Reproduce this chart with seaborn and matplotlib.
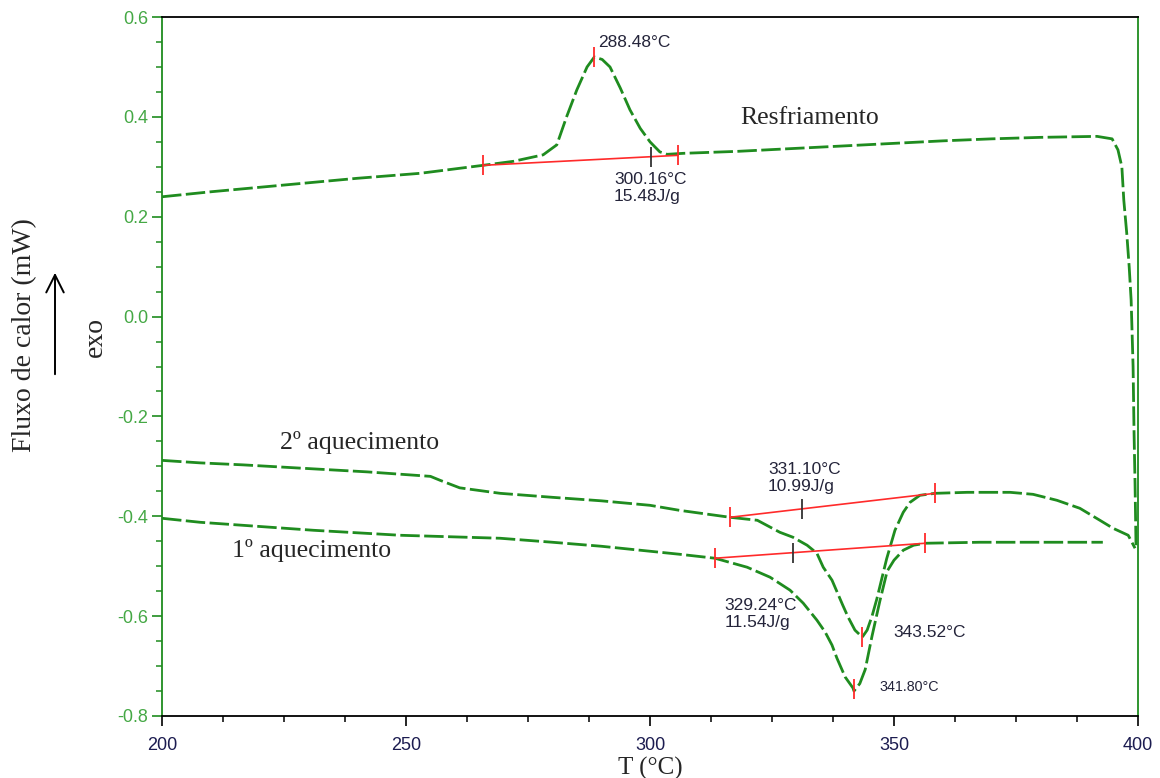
import numpy as np
import matplotlib
matplotlib.use("Agg")
import matplotlib.pyplot as plt
from matplotlib.ticker import MultipleLocator, FormatStrFormatter
import seaborn as sns

# curvas DSC (T em °C, fluxo em mW)
resf_T = [200, 210, 220, 230, 240, 252.9, 265.8, 272, 278.1, 280.9, 282.9, 285, 287.1, 288.6, 290.2,
          291.8, 293.9, 295.9, 298, 300, 302, 303.5, 306.8, 318, 330, 340, 350, 360, 370, 380,
          391.6, 394.7, 395.9, 396.7, 397.1, 397.7, 398.2, 398.6, 398.8, 399.0, 399.2, 399.4, 399.6]
resf_Y = [0.240, 0.250, 0.259, 0.268, 0.277, 0.287, 0.303, 0.311, 0.324, 0.344, 0.400, 0.454, 0.500, 0.520, 0.515,
          0.500, 0.458, 0.414, 0.377, 0.350, 0.330, 0.325, 0.327, 0.331, 0.337, 0.342, 0.347, 0.352, 0.356, 0.359,
          0.361, 0.356, 0.334, 0.300, 0.233, 0.167, 0.100, 0.033, -0.033, -0.100, -0.233, -0.333, -0.460]

aq2_T = [200, 207.8, 216.6, 231, 242, 255, 257, 261, 269.3, 280, 290, 300, 306, 316.4, 322,
         326.6, 329.3, 332.2, 334.2, 335.5, 337.3, 339.5, 340.6, 342, 343.5, 344.5, 345.5, 346.5, 347.5, 348.5,
         350.2, 351.9, 353.3, 355.3, 358.4, 365, 373.8, 378.5, 383.4, 388.1, 392.2, 394.9, 398, 399.4]
aq2_Y = [-0.288, -0.293, -0.297, -0.305, -0.311, -0.320, -0.328, -0.343, -0.354, -0.362, -0.369, -0.378, -0.388, -0.402, -0.408,
         -0.432, -0.442, -0.458, -0.474, -0.502, -0.528, -0.578, -0.602, -0.628, -0.642, -0.628, -0.600, -0.565, -0.525, -0.485,
         -0.428, -0.392, -0.372, -0.358, -0.354, -0.352, -0.352, -0.356, -0.368, -0.384, -0.408, -0.424, -0.438, -0.464]

aq1_T = [200, 207.8, 231, 248.8, 269.3, 280, 290, 300, 306, 313.3, 319.9, 324.6, 328.7, 331.4, 334.2,
         335.9, 337.3, 338.3, 340, 341.6, 341.8, 343, 344.1, 345.5, 347.1, 348.6, 350, 351.9, 354, 356.4,
         367.6, 380, 392.8]
aq1_Y = [-0.404, -0.412, -0.428, -0.438, -0.444, -0.452, -0.460, -0.470, -0.476, -0.484, -0.502, -0.522, -0.548, -0.574, -0.608,
         -0.632, -0.658, -0.684, -0.722, -0.744, -0.750, -0.735, -0.707, -0.640, -0.570, -0.510, -0.488, -0.468, -0.458, -0.454,
         -0.452, -0.452, -0.452]

# linhas de base / onset / pico (resfriamento, 2º aq., 1º aq.)
base_T0 = [265.8, 316.4, 313.3]
base_Y0 = [0.303, -0.402, -0.484]
base_T1 = [305.7, 358.4, 356.4]
base_Y1 = [0.323, -0.354, -0.454]
onset_T = [300.16, 331.10, 329.24]
onset_Y = [0.320, -0.385, -0.473]
entalpia = ["15.48J/g", "10.99J/g", "11.54J/g"]
pico_T = [288.48, 343.52, 341.80]
pico_Y = [0.520, -0.642, -0.745]

curvas = ["Resfriamento", "2º aquecimento", "1º aquecimento"]

sns.set_theme(style="ticks")
plt.rcParams['axes.unicode_minus'] = False
plt.rcParams['font.family'] = ['Liberation Sans', 'DejaVu Sans']

verde = '#1f8c1f'
verde_txt = '#45a845'
txt_cor = '#24243a'
serif = ['Liberation Serif', 'DejaVu Serif']

fig = plt.figure(figsize=(11.6, 7.78), dpi=100)
ax = fig.add_axes([0.1397, 0.0797, 0.8413, 0.8984])

for T, Y in [(resf_T, resf_Y), (aq2_T, aq2_Y), (aq1_T, aq1_Y)]:
    sns.lineplot(x=T, y=Y, ax=ax, color=verde, lw=2.0, sort=False, estimator=None,
                 linestyle=(0, (7, 1.6)))

for i in range(3):
    ax.plot([base_T0[i], base_T1[i]], [base_Y0[i], base_Y1[i]], color='#ff2a2a', lw=1.2)
ax.plot(base_T0, base_Y0, ls='', marker='|', ms=15, mew=1.3, color='#ff2a2a')
ax.plot(base_T1, base_Y1, ls='', marker='|', ms=15, mew=1.3, color='#ff2a2a')
ax.plot(pico_T, pico_Y, ls='', marker='|', ms=15, mew=1.3, color='#ff2a2a')
ax.plot(onset_T, onset_Y, ls='', marker='|', ms=15, mew=1.3, color='#333333')

# textos das medidas
ax.text(289.3, 0.55, f"{pico_T[0]:.2f}°C", fontsize=12.5, color=txt_cor, va='center')
ax.text(292.6, 0.257, f"{onset_T[0]:.2f}°C\n{entalpia[0]}", fontsize=12.5, color=txt_cor,
        va='center', linespacing=1.15)
ax.text(324.2, -0.324, f"{onset_T[1]:.2f}°C\n{entalpia[1]}", fontsize=12.5, color=txt_cor,
        va='center', linespacing=1.15)
ax.text(315.2, -0.595, f"{onset_T[2]:.2f}°C\n{entalpia[2]}", fontsize=12.5, color=txt_cor,
        va='center', linespacing=1.15)
ax.text(349.8, -0.632, f"{pico_T[1]:.2f}°C", fontsize=12.5, color=txt_cor, va='center')
ax.text(347.1, -0.741, f"{pico_T[2]:.2f}°C", fontsize=10.3, color=txt_cor, va='center')

# nomes das curvas
ax.text(318.6, 0.398, curvas[0], fontsize=18.5, family=serif, va='center')
ax.text(224.2, -0.252, curvas[1], fontsize=18.5, family=serif, va='center')
ax.text(214.3, -0.468, curvas[2], fontsize=18.5, family=serif, va='center')

ax.set_xlim(200, 400)
ax.set_ylim(-0.8, 0.6)
ax.set_xticks([200, 250, 300, 350, 400])
ax.set_yticks([-0.8, -0.6, -0.4, -0.2, 0.0, 0.2, 0.4, 0.6])
ax.xaxis.set_minor_locator(MultipleLocator(12.5))
ax.yaxis.set_minor_locator(MultipleLocator(0.05))
ax.yaxis.set_major_formatter(FormatStrFormatter('%.1f'))

ax.tick_params(axis='y', which='major', length=7, width=1.2, color=verde, labelcolor=verde_txt,
               labelsize=13, pad=3)
ax.tick_params(axis='y', which='minor', length=4.5, width=1.1, color=verde)
ax.tick_params(axis='x', which='major', length=7, width=1.2, color='black', labelcolor='#1c1c50',
               labelsize=13, pad=8)
ax.tick_params(axis='x', which='minor', length=4.5, width=1.1, color='black')
for lab in ax.get_xticklabels():
    lab.set_family(['Liberation Sans Narrow', 'Liberation Sans'])

for s in ['left', 'right']:
    ax.spines[s].set_color(verde)
    ax.spines[s].set_linewidth(1.3)
for s in ['top', 'bottom']:
    ax.spines[s].set_color('black')
    ax.spines[s].set_linewidth(1.3)
ax.spines['right'].set_visible(True)
ax.spines['top'].set_visible(True)

ax.set_xlabel("T (°C)", fontsize=18, family=serif, labelpad=2)
ax.set_ylabel("")

fig.text(25 / 1160, 1 - 335 / 778, "Fluxo de calor (mW)", rotation=90, ha='center', va='center',
         fontsize=20, family=serif)
fig.text(95 / 1160, 1 - 337 / 778, "exo", rotation=90, ha='center', va='center',
         fontsize=20, family=serif)
fig.add_artist(matplotlib.patches.FancyArrowPatch((55 / 1160, 1 - 377 / 778), (55 / 1160, 1 - 270 / 778),
                                                  transform=fig.transFigure, arrowstyle='->,head_length=0.9,head_width=0.45',
                                                  lw=1.4, color='black', mutation_scale=14))

fig.savefig("out.png", dpi=100)
